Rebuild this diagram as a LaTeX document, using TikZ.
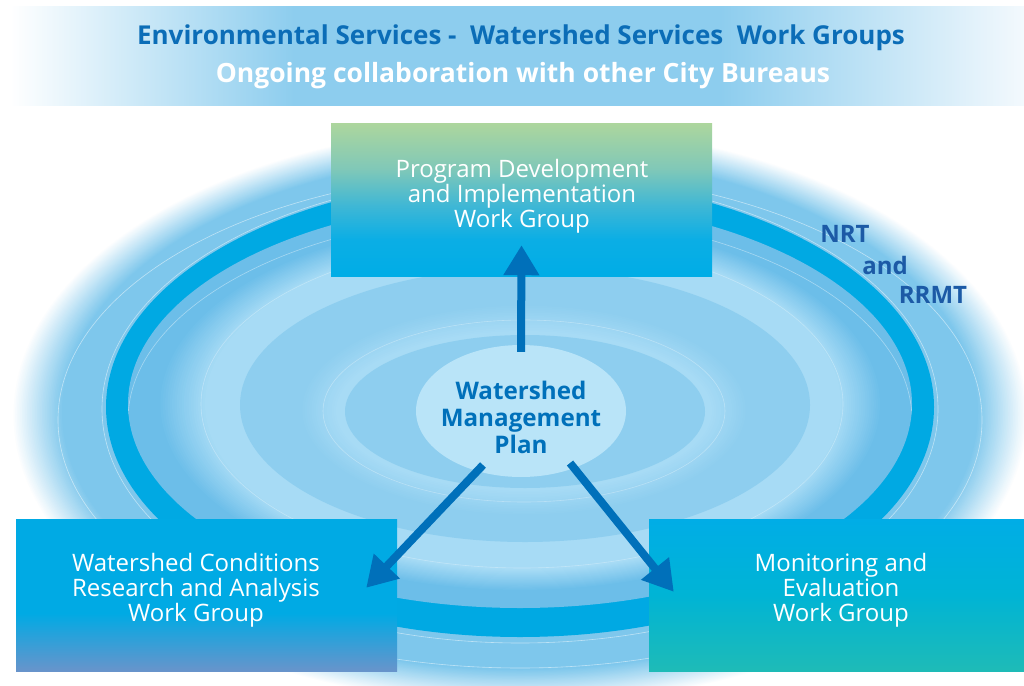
\documentclass[tikz,border=0pt]{standalone}
\usepackage{fontspec}
\setmainfont{Open Sans}
\usetikzlibrary{arrows.meta,calc,shapes.geometric}

\definecolor{hb}{HTML}{8DCDEE}
\definecolor{hbw}{HTML}{F3F9FD}
\definecolor{ttl}{HTML}{0B6DB7}
\definecolor{cOut}{HTML}{7EC7EC}
\definecolor{cRing}{HTML}{00A9E3}
\definecolor{cDark}{HTML}{6CBEE9}
\definecolor{cMed}{HTML}{8ECEEF}
\definecolor{cLight}{HTML}{A7DBF5}
\definecolor{cCore}{HTML}{B9E4F8}
\definecolor{arrc}{HTML}{0070BA}
\definecolor{nrtc}{HTML}{1C5AA6}
\definecolor{pdA}{HTML}{00ADE6}
\definecolor{pdB}{HTML}{0BAEE5}
\definecolor{pdC}{HTML}{3FB7D5}
\definecolor{pdD}{HTML}{80C8B8}
\definecolor{pdE}{HTML}{ADD69D}
\definecolor{lbA}{HTML}{6894CB}
\definecolor{lbB}{HTML}{00AAE4}
\definecolor{rbA}{HTML}{1EBBB7}
\definecolor{rbB}{HTML}{00B4D5}
\definecolor{rbC}{HTML}{00ADE6}

\pgfdeclareverticalshading{pdgrad}{100bp}{color(0bp)=(pdA); color(25bp)=(pdA); color(37bp)=(pdB); color(48bp)=(pdC); color(60bp)=(pdD); color(75bp)=(pdE); color(100bp)=(pdE)}
\pgfdeclareverticalshading{lbgrad}{100bp}{color(0bp)=(lbA); color(25bp)=(lbA); color(44bp)=(lbB); color(75bp)=(lbB); color(100bp)=(lbB)}
\pgfdeclareverticalshading{rbgrad}{100bp}{color(0bp)=(rbA); color(25bp)=(rbA); color(50bp)=(rbB); color(75bp)=(rbC); color(100bp)=(rbC)}
\pgfdeclarehorizontalshading{hdgrad}{100bp}{color(0bp)=(white); color(25bp)=(white); color(39bp)=(hb); color(60bp)=(hb); color(75bp)=(hbw); color(100bp)=(hbw)}

\makeatletter
\def\rp@parseA#1/#2/#3/#4\@nil{\def\rp@xa{#1}\def\rp@ya{#2}\def\rp@aa{#3}\def\rp@ba{#4}}
\def\rp@parseB#1/#2/#3/#4\@nil{\def\rp@xb{#1}\def\rp@yb{#2}\def\rp@ab{#3}\def\rp@bb{#4}}
\newcommand\ripple[5]{%
  \rp@parseA#1\@nil\rp@parseB#3\@nil
  \foreach \i in {0,...,#5}{%
    \pgfmathsetmacro\rpt{\i/#5}%
    \pgfmathsetmacro\rpx{\rp@xa+(\rp@xb-\rp@xa)*\rpt}%
    \pgfmathsetmacro\rpy{\rp@ya+(\rp@yb-\rp@ya)*\rpt}%
    \pgfmathsetmacro\rpa{\rp@aa+(\rp@ab-\rp@aa)*\rpt}%
    \pgfmathsetmacro\rpb{\rp@ba+(\rp@bb-\rp@ba)*\rpt}%
    \pgfmathsetmacro\rpp{100*\rpt}%
    \fill[#4!\rpp!#2] (\rpx,\rpy) ellipse [x radius=\rpa pt, y radius=\rpb pt];
  }}
\makeatother

\begin{document}
\begin{tikzpicture}[x=1pt,y=-1pt,
  thinline/.style={white, line width=0.6pt, opacity=0.5},
  faintline/.style={white, line width=0.6pt, opacity=0.3},
  wgbox/.style={rectangle, inner sep=0pt, minimum height=152pt},
  boxtxt/.style={text=white, align=center, font=\fontsize{24}{25}\selectfont},
  ttlA/.style={text=ttl, font=\fontsize{26}{30}\selectfont\bfseries},
  ttlB/.style={text=white, font=\fontsize{26.5}{30}\selectfont\bfseries},
  core/.style={ellipse, fill=cCore, minimum width=210pt, minimum height=132pt, inner sep=0pt},
  coretxt/.style={text=arrc, align=center, font=\fontsize{24.2}{27}\selectfont\bfseries},
  nrt/.style={text=nrtc, font=\fontsize{24}{28}\selectfont\bfseries},
  arrow/.style={draw=arrc, line width=8pt, -{Triangle[length=30pt,width=34pt]}, fill=arrc}
]
\useasboundingbox (0,0) rectangle (1024,685);
\fill[white] (0,0) rectangle (1024,685);

% header band
\shade[shading=hdgrad] (10,7) rectangle (1024,105);

% ripple disc
\ripple{520/415/508/290}{white}{520/412/458/258}{cOut}{30}
\draw[thinline] (520,420) ellipse [x radius=462pt, y radius=248pt];
\draw[thinline] (520,409) ellipse [x radius=418pt, y radius=234pt];
\fill[cRing] (520,407) ellipse [x radius=414pt, y radius=230pt];
\fill[cDark] (520,404) ellipse [x radius=392pt, y radius=204pt];
\begin{scope}
  \clip (520,404) ellipse [x radius=392pt, y radius=204pt];
  \draw[thinline, opacity=0.4] (520,420) ellipse [x radius=392pt, y radius=206pt];
\end{scope}
\ripple{520/404/362/187}{cDark}{523/404/318/166}{cLight}{20}
\draw[faintline] (522,404) ellipse [x radius=321pt, y radius=164pt];
\fill[cMed] (525,405) ellipse [x radius=285pt, y radius=137pt];
\ripple{524/410/224/106}{cMed}{524/411/188/80}{cLight}{16}
\draw[faintline] (524,411) ellipse [x radius=201pt, y radius=91pt];
\fill[cMed] (525,411.5) ellipse [x radius=180pt, y radius=76.5pt];

\node[core] (wmp) at (521,411) {};
\node[coretxt] (wmpt) at ([yshift=-6pt]wmp.center) {Watershed\\Management\\Plan};

% header texts
\node[ttlA] (t1) at (521,38) {Environmental Services -\ \ Watershed Services\ \ Work Groups};
\node[ttlB] (t2) at (523,76) {Ongoing collaboration with other City Bureaus};

% NRT labels
\node[nrt] (n1) at (845,234) {NRT};
\node[nrt] (n2) at (885,265) {and};
\node[nrt] (n3) at (933,295) {RRMT};

% work group boxes
\node[wgbox, shade, shading=pdgrad, minimum width=381pt, minimum height=153pt] (pd) at (521.5,199.5) {};
\node[boxtxt] (pdt) at (522,196) {Program Development\\and Implementation\\Work Group};
\node[wgbox, shade, shading=lbgrad, minimum width=381pt] (lb) at (206.5,595) {};
\node[boxtxt] (lbt) at (196,590) {Watershed Conditions\\Research and Analysis\\Work Group};
\node[wgbox, shade, shading=rbgrad, minimum width=376pt] (rb) at (837,595) {};
\node[boxtxt] (rbt) at (841,590) {Monitoring and\\Evaluation\\Work Group};

% arrows
\draw[arrow] ([yshift=-7pt]wmp.north) -- ([yshift=31pt]pd.south);
\draw[arrow] ($(wmp.center)+(-38,54)$) -- ($(lb.north east)+(-31,69)$);
\draw[arrow] ($(wmp.center)+(49,52)$) -- ($(rb.north west)+(25,73)$);
\end{tikzpicture}
\end{document}
